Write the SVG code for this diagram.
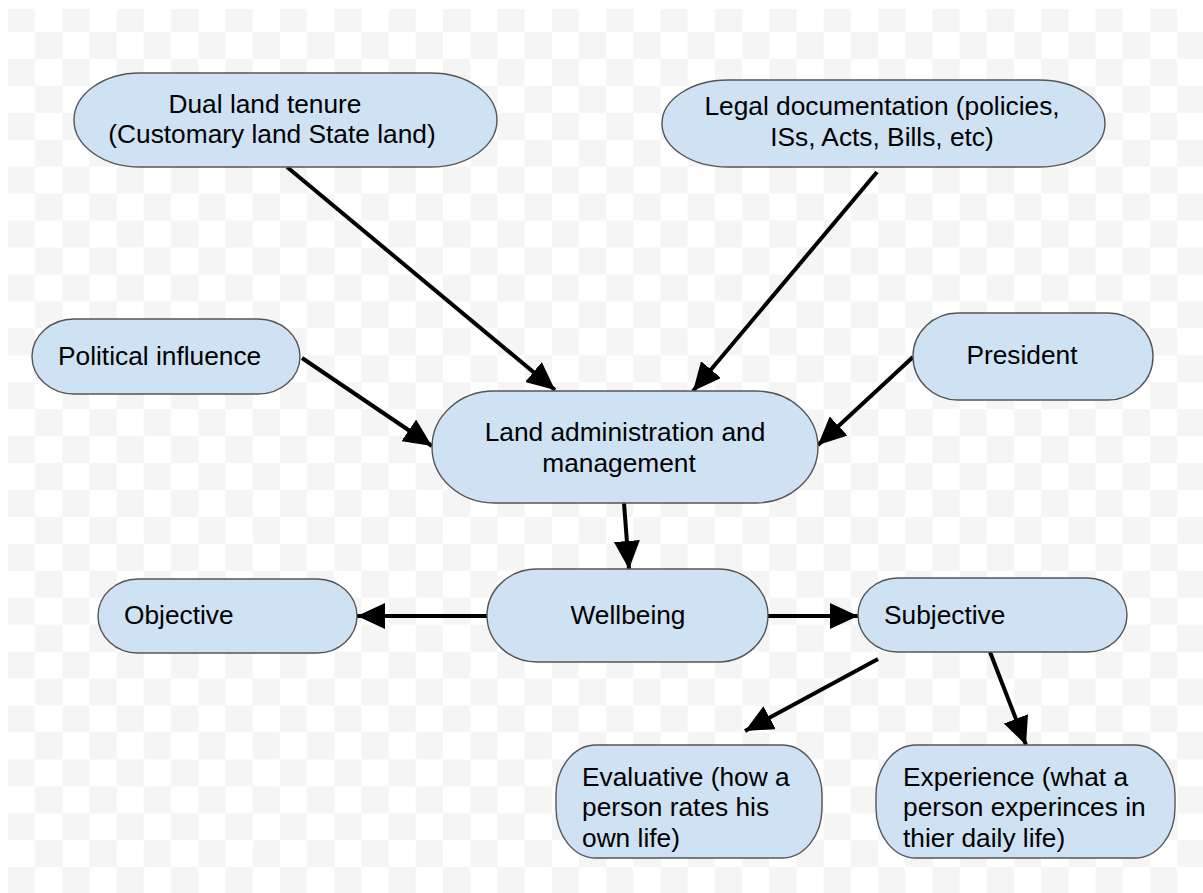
<svg xmlns="http://www.w3.org/2000/svg" width="1203" height="893" viewBox="0 0 1203 893">
<defs>
<pattern id="checker" patternUnits="userSpaceOnUse" x="8" y="5.06" width="54.38" height="53.88">
<rect x="0" y="0" width="54.38" height="53.88" fill="#ffffff"/>
<rect x="0" y="0" width="27.19" height="26.94" fill="#f5f5f5"/>
<rect x="27.19" y="26.94" width="27.19" height="26.94" fill="#f5f5f5"/>
</pattern>
<marker id="arrow" markerUnits="userSpaceOnUse" markerWidth="30" markerHeight="26" refX="28" refY="13" orient="auto">
<path d="M0,0 L28,13 L0,26 z" fill="#000"/>
</marker>
<style>
.node{fill:#cfe2f3;stroke:#555;stroke-width:1.4}
.t{font-family:"Liberation Sans",Arial,sans-serif;font-size:26.3px;fill:#000}
.c{text-anchor:middle}
.edge{stroke:#000;stroke-width:4;fill:none;marker-end:url(#arrow)}
</style>
</defs>
<rect x="0" y="0" width="1203" height="893" fill="#ffffff"/>
<rect x="8" y="9" width="1195" height="884" fill="url(#checker)"/>

<g id="connectors">
<line class="edge" x1="287" y1="167" x2="555" y2="390"/>
<line class="edge" x1="877" y1="172" x2="693" y2="391"/>
<line class="edge" x1="302" y1="358" x2="432" y2="446"/>
<line class="edge" x1="913" y1="357" x2="818" y2="445"/>
<line class="edge" x1="624" y1="503" x2="629" y2="569"/>
<line class="edge" x1="487" y1="616" x2="357" y2="616"/>
<line class="edge" x1="768" y1="616" x2="858" y2="616"/>
<line class="edge" x1="878" y1="659" x2="745" y2="731"/>
<line class="edge" x1="990" y1="652" x2="1026" y2="745"/>
</g>

<g id="node-dual">
<rect class="node" x="74" y="73" width="423" height="94" rx="66" ry="47"/>
<text class="t c" x="265" y="113">Dual land tenure</text>
<text class="t c" x="272" y="143">(Customary land State land)</text>
</g>

<g id="node-legal">
<rect class="node" x="662" y="80" width="443" height="87" rx="66" ry="43.5"/>
<text class="t c" x="882" y="115">Legal documentation (policies,</text>
<text class="t c" x="882" y="146">ISs, Acts, Bills, etc)</text>
</g>

<g id="node-political">
<rect class="node" x="32" y="319" width="268" height="75" rx="42" ry="37.5"/>
<text class="t" x="58" y="365">Political influence</text>
</g>

<g id="node-president">
<rect class="node" x="913" y="313" width="240" height="87" rx="45" ry="43.5"/>
<text class="t c" x="1022" y="364">President</text>
</g>

<g id="node-land">
<rect class="node" x="432" y="391" width="386" height="112" rx="62" ry="56"/>
<text class="t c" x="625" y="441">Land administration and</text>
<text class="t c" x="619" y="472">management</text>
</g>

<g id="node-objective">
<rect class="node" x="98" y="579" width="259" height="74" rx="40" ry="37"/>
<text class="t" x="124" y="624">Objective</text>
</g>

<g id="node-wellbeing">
<rect class="node" x="487" y="569" width="281" height="93" rx="50" ry="46.5"/>
<text class="t c" x="628" y="624">Wellbeing</text>
</g>

<g id="node-subjective">
<rect class="node" x="858" y="578" width="269" height="74" rx="40" ry="37"/>
<text class="t" x="884" y="624">Subjective</text>
</g>

<g id="node-evaluative">
<rect class="node" x="556" y="745" width="266" height="113" rx="40" ry="50"/>
<text class="t" x="582" y="786">Evaluative (how a</text>
<text class="t" x="582" y="816">person rates his</text>
<text class="t" x="582" y="847">own life)</text>
</g>

<g id="node-experience">
<rect class="node" x="876" y="745" width="299" height="113" rx="40" ry="50"/>
<text class="t" x="903" y="786">Experience (what a</text>
<text class="t" x="903" y="816">person experinces in</text>
<text class="t" x="903" y="847">thier daily life)</text>
</g>
</svg>
